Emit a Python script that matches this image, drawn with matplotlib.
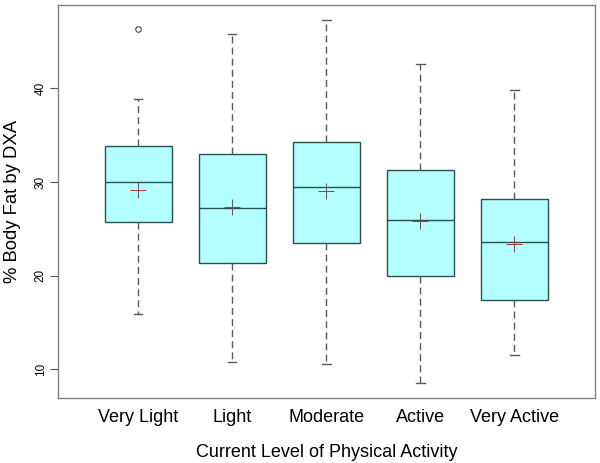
import matplotlib
matplotlib.use("Agg")
import matplotlib.pyplot as plt

categories = ["Very Light", "Light", "Moderate", "Active", "Very Active"]
whisker_low = [15.9, 10.75, 10.57, 8.54, 11.53]
q1 = [25.69, 21.35, 23.48, 20.0, 17.43]
medians = [30.0, 27.2, 29.5, 25.9, 23.56]
q3 = [33.84, 33.0, 34.23, 31.24, 28.15]
whisker_high = [38.9, 45.76, 47.36, 42.6, 39.78]
means = [29.1, 27.3, 29.0, 25.8, 23.35]
outliers = [[46.4], [], [], [], []]
yticks = [10, 20, 30, 40]

plt.rcParams['font.family'] = ['Liberation Sans', 'DejaVu Sans']

fig = plt.figure(figsize=(6.0, 4.63), dpi=100)
ax = fig.add_axes([0.0972, 0.141, 0.894, 0.848])

stats = []
for i, c in enumerate(categories):
    stats.append(dict(label=c, whislo=whisker_low[i], q1=q1[i], med=medians[i],
                      q3=q3[i], whishi=whisker_high[i], mean=means[i],
                      fliers=outliers[i]))

edge = "#2f4f4f"
ax.bxp(stats, positions=range(1, 6), widths=0.71, patch_artist=True,
       showmeans=True, meanline=False, capwidths=0.09,
       boxprops=dict(facecolor="#b4ffff", edgecolor=edge, linewidth=1.0),
       medianprops=dict(color=edge, linewidth=1.0),
       whiskerprops=dict(color="#5a5a5a", linewidth=1.0, linestyle=(0, (5, 3))),
       capprops=dict(color="#5a5a5a", linewidth=1.0),
       meanprops=dict(marker="+", markersize=11, markeredgecolor="#b03a3a",
                      markeredgewidth=0.75),
       flierprops=dict(marker="o", markersize=4, markerfacecolor="none",
                       markeredgecolor="#444444", markeredgewidth=0.8))

ax.set_xlim(0.15, 5.855)
ax.set_ylim(6.97, 48.9)
ax.set_yticks(yticks)
ax.set_yticklabels([str(t) for t in yticks], rotation=90, va="center", fontsize=8.5)
ax.tick_params(axis="y", direction="out", length=5.8, width=0.8, color="#555555", pad=2.5)
ax.tick_params(axis="x", length=0, labelsize=13, pad=8)
for s in ax.spines.values():
    s.set_color("#808080")
    s.set_linewidth(1.0)

ax.set_xlabel("Current Level of Physical Activity", fontsize=13, labelpad=13)
ax.set_ylabel("% Body Fat by DXA", fontsize=13.3, va="center")
ax.yaxis.set_label_coords(-0.0863, 0.5)

fig.savefig("out.png", dpi=100)
